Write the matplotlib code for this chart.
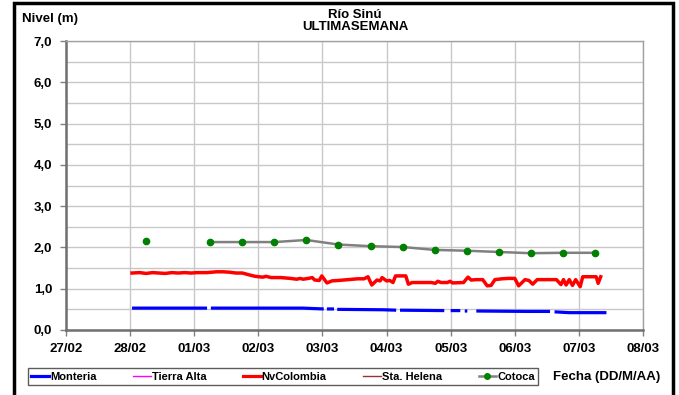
import numpy as np
import matplotlib.pyplot as plt
from matplotlib.patches import Rectangle
from matplotlib.lines import Line2D

plt.rcParams['font.family'] = ['Liberation Sans', 'DejaVu Sans']
plt.rcParams['font.weight'] = 'bold'

# Tick labels (one per day, day 0 = 27/02)
fechas = ["27/02", "28/02", "01/03", "02/03", "03/03", "04/03", "05/03", "06/03", "07/03", "08/03"]
niveles = [0, 1, 2, 3, 4, 5, 6, 7]

# Monteria (nan = gap in record)
monteria_t = [1.03, 2.20, 2.22, 2.26, 3.70, 3.85, 4.02, 4.04, 4.07, 4.18, 4.20, 4.23, 4.95,
              5.15, 5.17, 5.21, 5.90, 5.92, 6.00, 6.15, 6.17, 6.22, 6.26, 6.30, 6.40,
              7.20, 7.55, 7.57, 7.62, 7.85, 8.43]
monteria_h = [0.53, 0.53, np.nan, 0.53, 0.53, 0.52, 0.51, np.nan, 0.51, 0.51, np.nan, 0.50, 0.49,
              0.48, np.nan, 0.48, 0.47, np.nan, 0.47, 0.47, np.nan, 0.46, 0.46, np.nan, 0.46,
              0.45, 0.45, np.nan, 0.44, 0.42, 0.42]

# NvColombia
nvcol_t = [1.03, 1.15, 1.25, 1.35, 1.45, 1.55, 1.65, 1.75, 1.85, 1.95, 2.05, 2.20, 2.35, 2.45,
           2.55, 2.65, 2.75, 2.87, 2.95, 3.07, 3.12, 3.20, 3.35, 3.50, 3.60, 3.65, 3.70, 3.78,
           3.84, 3.88, 3.95, 3.99, 4.07, 4.15, 4.25, 4.40, 4.55, 4.65, 4.71, 4.77, 4.85, 4.90,
           4.93, 5.00, 5.05, 5.10, 5.14, 5.30, 5.34, 5.40, 5.60, 5.70, 5.76, 5.80, 5.85, 5.95,
           5.99, 6.03, 6.20, 6.27, 6.32, 6.40, 6.50, 6.57, 6.63, 6.69, 6.80, 6.90, 7.00, 7.06,
           7.16, 7.22, 7.28, 7.35, 7.50, 7.65, 7.72, 7.76, 7.80, 7.85, 7.90, 7.95, 8.02, 8.06,
           8.15, 8.27, 8.30, 8.34]
nvcol_h = [1.38, 1.39, 1.37, 1.39, 1.38, 1.37, 1.39, 1.38, 1.39, 1.38, 1.39, 1.39, 1.41, 1.41,
           1.40, 1.38, 1.38, 1.33, 1.30, 1.28, 1.30, 1.27, 1.27, 1.25, 1.23, 1.25, 1.23, 1.25,
           1.27, 1.21, 1.20, 1.31, 1.14, 1.19, 1.20, 1.22, 1.24, 1.24, 1.29, 1.09, 1.21, 1.19,
           1.27, 1.19, 1.20, 1.15, 1.31, 1.31, 1.11, 1.15, 1.15, 1.15, 1.13, 1.18, 1.15, 1.15,
           1.18, 1.14, 1.15, 1.28, 1.21, 1.22, 1.22, 1.07, 1.08, 1.22, 1.24, 1.25, 1.25, 1.07,
           1.22, 1.20, 1.11, 1.22, 1.22, 1.22, 1.10, 1.22, 1.09, 1.22, 1.08, 1.22, 1.05, 1.29,
           1.29, 1.29, 1.13, 1.29]

# Cotoca (two readings a day)
cotoca_t = [1.25, 1.75, 2.25, 2.75, 3.25, 3.75, 4.25, 4.75, 5.25, 5.75, 6.25, 6.75, 7.25, 7.75, 8.25]
cotoca_h = [2.15, np.nan, 2.13, 2.13, 2.13, 2.18, 2.07, 2.03, 2.01, 1.94, 1.92, 1.89, 1.86, 1.87, 1.87]

fig = plt.figure(figsize=(6.79, 3.95), dpi=100)
ax = fig.add_axes([66 / 679, 65 / 395, 577 / 679, 289 / 395])

# outer frame
fig.patches.append(Rectangle((14 / 679, -0.02), 659 / 679, 1.013, transform=fig.transFigure,
                             fill=False, edgecolor='black', linewidth=2.5, zorder=0))

ax.plot(monteria_t, monteria_h, color='#0000FF', lw=2.3, solid_capstyle='butt', zorder=3)
ax.plot(nvcol_t, nvcol_h, color='#FF0000', lw=2.5, zorder=3)
ax.plot(cotoca_t, cotoca_h, color='#808080', lw=1.8, marker='o', markersize=4.5,
        markerfacecolor='#008000', markeredgecolor='#008000', zorder=4)

ax.set_xlim(0, 9)
ax.set_ylim(0, 7)
ax.set_xticks(range(len(fechas)))
ax.set_xticklabels(fechas, fontsize=9.5, fontweight='bold')
ax.set_yticks(niveles)
ax.set_yticklabels([f"{v},0" for v in niveles], fontsize=9.5, fontweight='bold')
ax.set_yticks(np.arange(0, 7.01, 0.5), minor=True)
ax.tick_params(axis='y', which='minor', length=0)
ax.tick_params(direction='out', length=4, width=1, color='#808080')
ax.tick_params(axis='y', which='major', pad=6)
ax.tick_params(axis='x', which='major', pad=5)

ax.grid(True, which='both', color='#c8c8c8', lw=1)
ax.set_axisbelow(True)
for s in ['left', 'bottom']:
    ax.spines[s].set_color('#707070')
    ax.spines[s].set_linewidth(1.8)
for s in ['right', 'top']:
    ax.spines[s].set_color('#a0a0a0')
    ax.spines[s].set_linewidth(1)

fig.text(22 / 679, 1 - 19 / 395, "Nivel (m)", fontsize=9.5, fontweight='bold', va='center')
fig.text(355 / 679, 1 - 21 / 395, "Río Sinú\nULTIMASEMANA", fontsize=9.5, fontweight='bold',
         ha='center', va='center', linespacing=1.05)
fig.text(553 / 679, 1 - 377 / 395, "Fecha (DD/M/AA)", fontsize=9.5, fontweight='bold', va='center')

handles = [
    Line2D([], [], color='#0000FF', lw=2.3),
    Line2D([], [], color='#FF00FF', lw=1),
    Line2D([], [], color='#FF0000', lw=2.3),
    Line2D([], [], color='#993333', lw=1),
    Line2D([], [], color='#808080', lw=1.8, marker='o', markersize=4,
           markerfacecolor='#008000', markeredgecolor='#008000'),
]
labels = ["Monteria", "Tierra Alta", "NvColombia", "Sta. Helena", "Cotoca"]
leg = fig.legend(handles, labels, ncol=5, mode='expand',
                 bbox_to_anchor=(22 / 679, 1 - 386 / 395, 522 / 679, 19 / 395),
                 loc='center', fancybox=False, frameon=True, handlelength=1.6,
                 handletextpad=0.1, borderpad=0.3, prop={'size': 8, 'weight': 'bold'})
leg.get_frame().set_edgecolor('#333333')
leg.get_frame().set_linewidth(1)

fig.savefig("out.png", dpi=100)
